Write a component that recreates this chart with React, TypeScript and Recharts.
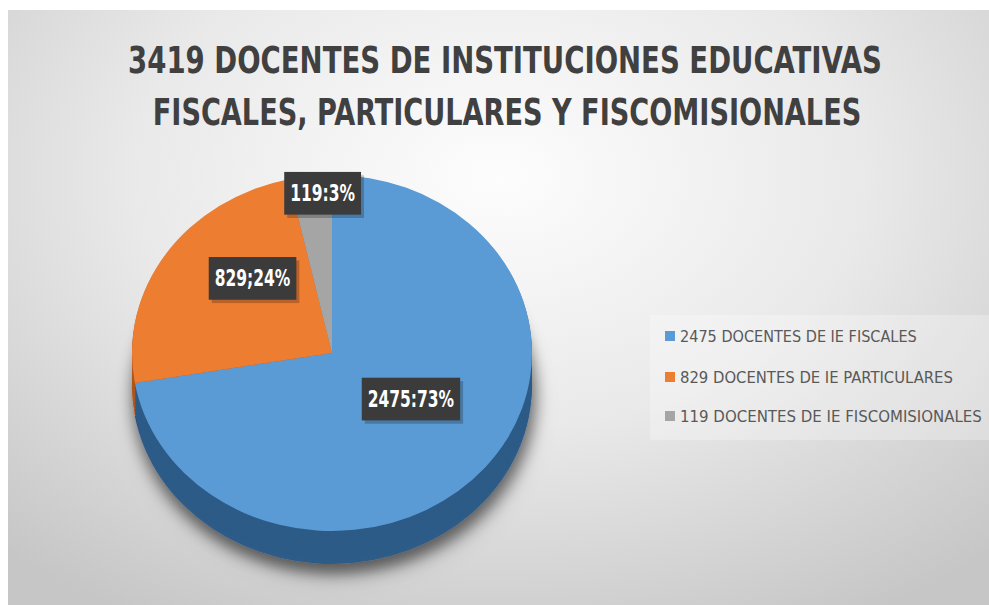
import { PieChart, Pie, Cell, Legend } from "recharts";

const TITLE_LINES = [
  "3419 DOCENTES DE INSTITUCIONES EDUCATIVAS",
  "FISCALES, PARTICULARES Y FISCOMISIONALES",
];
const NAMES = [
  "2475 DOCENTES DE IE FISCALES",
  "829 DOCENTES DE IE PARTICULARES",
  "119 DOCENTES DE IE FISCOMISIONALES",
];
const VALUES = [2475, 829, 119];
const PERCENTS = [73, 24, 3];
const SEPARATORS = [":", ";", ":"];

const COLORS = ["#5b9bd5", "#ed7d31", "#a5a5a5"];
const SIDE_COLORS = ["#2d5b87", "#b0561c", "#7b7b7b"];

const data = NAMES.map((name, i) => ({
  name,
  value: VALUES[i],
  label: `${VALUES[i]}${SEPARATORS[i]}${PERCENTS[i]}%`,
}));

const W = 981;
const H = 595;
const CX = 324;
const CY = 343;
const R = 200;
const SQUASH = 0.89; // tilt of the 3d pie
const DEPTH = 37;
const FONT = "'Liberation Sans Narrow', 'DejaVu Sans Condensed', 'Open Sans', sans-serif";
const RAD = Math.PI / 180;

// radius factor + angle nudge for each data label
const LABEL_PLACE = [
  [0.457, 9.9],
  [0.545, -9.3],
  [0.8, -2.9],
];

const depthLayers = Array.from({ length: 10 }, (_, i) => DEPTH - i * 4);

// horizontal squeeze so a string spans the wanted width
let ctx: CanvasRenderingContext2D | null = null;
const squeeze = (text: string, font: string, want: number) => {
  if (!ctx) ctx = document.createElement("canvas").getContext("2d");
  if (!ctx) return 1;
  ctx.font = font;
  const w = ctx.measureText(text).width;
  return w > 0 ? want / w : 1;
};

const FitText = ({ x, y, text, size, bold, fill, width, anchor = "middle" }: any) => {
  const k = squeeze(text, `${bold ? "bold " : ""}${size}px ${FONT}`, width);
  return (
    <text
      transform={`translate(${x},${y}) scale(${k},1)`}
      textAnchor={anchor}
      fontSize={size}
      fontWeight={bold ? "bold" : "normal"}
      fill={fill}
      fontFamily={FONT}
    >
      {text}
    </text>
  );
};

const renderLabel = (props: any) => {
  const { cx, cy, midAngle, outerRadius, index } = props;
  const [f, shift] = LABEL_PLACE[index];
  const a = (midAngle + shift) * RAD;
  const x = cx + outerRadius * f * Math.cos(a);
  const y = cy - outerRadius * f * Math.sin(a);
  const text = data[index].label;
  const tw = text.length * 10.8;
  const bw = tw + 12;
  const bh = 38;
  return (
    <g transform={`translate(${x},${y}) scale(1,${1 / SQUASH})`}>
      <rect x={-bw / 2 + 3} y={-bh / 2 + 3} width={bw} height={bh} fill="#000" opacity={0.22} />
      <rect x={-bw / 2} y={-bh / 2} width={bw} height={bh} fill="#3b3b3b" />
      <FitText x={0} y={7} text={text} size={20} bold fill="#ffffff" width={tw} />
    </g>
  );
};

const LEGEND_ROWS = [21, 62, 101];
const LEGEND_WIDTHS = [237, 273, 302];

const renderLegend = () => (
  <svg width={341} height={125}>
    <rect x={0} y={0} width={341} height={125} fill="#ffffff" opacity={0.28} />
    {NAMES.map((name, i) => (
      <g key={name}>
        <rect x={15} y={LEGEND_ROWS[i] - 5} width={10} height={10} fill={COLORS[i]} />
        <FitText
          x={30}
          y={LEGEND_ROWS[i] + 6}
          text={name}
          size={16}
          fill="#595959"
          width={LEGEND_WIDTHS[i]}
          anchor="start"
        />
      </g>
    ))}
  </svg>
);

export default function App() {
  return (
    <div style={{ padding: "10px 0 0 8px" }}>
      <style>{`
        body { margin: 0; overflow: hidden; }
        .pie3d .recharts-pie { transform: scaleY(${SQUASH}); transform-origin: ${CX}px ${CY}px; }
        .pie3d .pie-shadow { filter: url(#pieShadow); }
      `}</style>
      <div
        className="pie3d"
        style={{
          width: W,
          height: H,
          background:
            "radial-gradient(ellipse 75% 85% at 50% 28%, #fdfdfd 0%, #e9e9e9 50%, #c6c6c6 100%)",
        }}
      >
        <PieChart width={W} height={H} margin={{ top: 0, right: 0, bottom: 0, left: 0 }}>
          <defs>
            <filter id="pieShadow" x="-20%" y="-20%" width="140%" height="150%">
              <feDropShadow dx={2} dy={10} stdDeviation={8} floodColor="#000" floodOpacity={0.35} />
            </filter>
          </defs>
          <FitText x={497} y={63} text={TITLE_LINES[0]} size={38} bold fill="#404040" width={754} />
          <FitText x={499} y={115} text={TITLE_LINES[1]} size={38} bold fill="#404040" width={709} />
          {depthLayers.map((d, li) => (
            <Pie
              key={`depth-${d}`}
              className={li === 0 ? "pie-shadow" : undefined}
              data={data}
              dataKey="value"
              nameKey="name"
              cx={CX}
              cy={CY + d}
              outerRadius={R}
              startAngle={90}
              endAngle={-270}
              stroke="none"
              legendType="none"
              label={false}
              labelLine={false}
              isAnimationActive={false}
            >
              {data.map((_, i) => (
                <Cell key={i} fill={SIDE_COLORS[i]} />
              ))}
            </Pie>
          ))}
          <Pie
            data={data}
            dataKey="value"
            nameKey="name"
            cx={CX}
            cy={CY}
            outerRadius={R}
            startAngle={90}
            endAngle={-270}
            stroke="none"
            label={renderLabel}
            labelLine={false}
            isAnimationActive={false}
          >
            {data.map((_, i) => (
              <Cell key={i} fill={COLORS[i]} />
            ))}
          </Pie>
          <Legend
            layout="vertical"
            align="right"
            verticalAlign="top"
            content={renderLegend}
            wrapperStyle={{ left: 642, top: 305, width: 341, height: 125 }}
          />
        </PieChart>
      </div>
    </div>
  );
}
